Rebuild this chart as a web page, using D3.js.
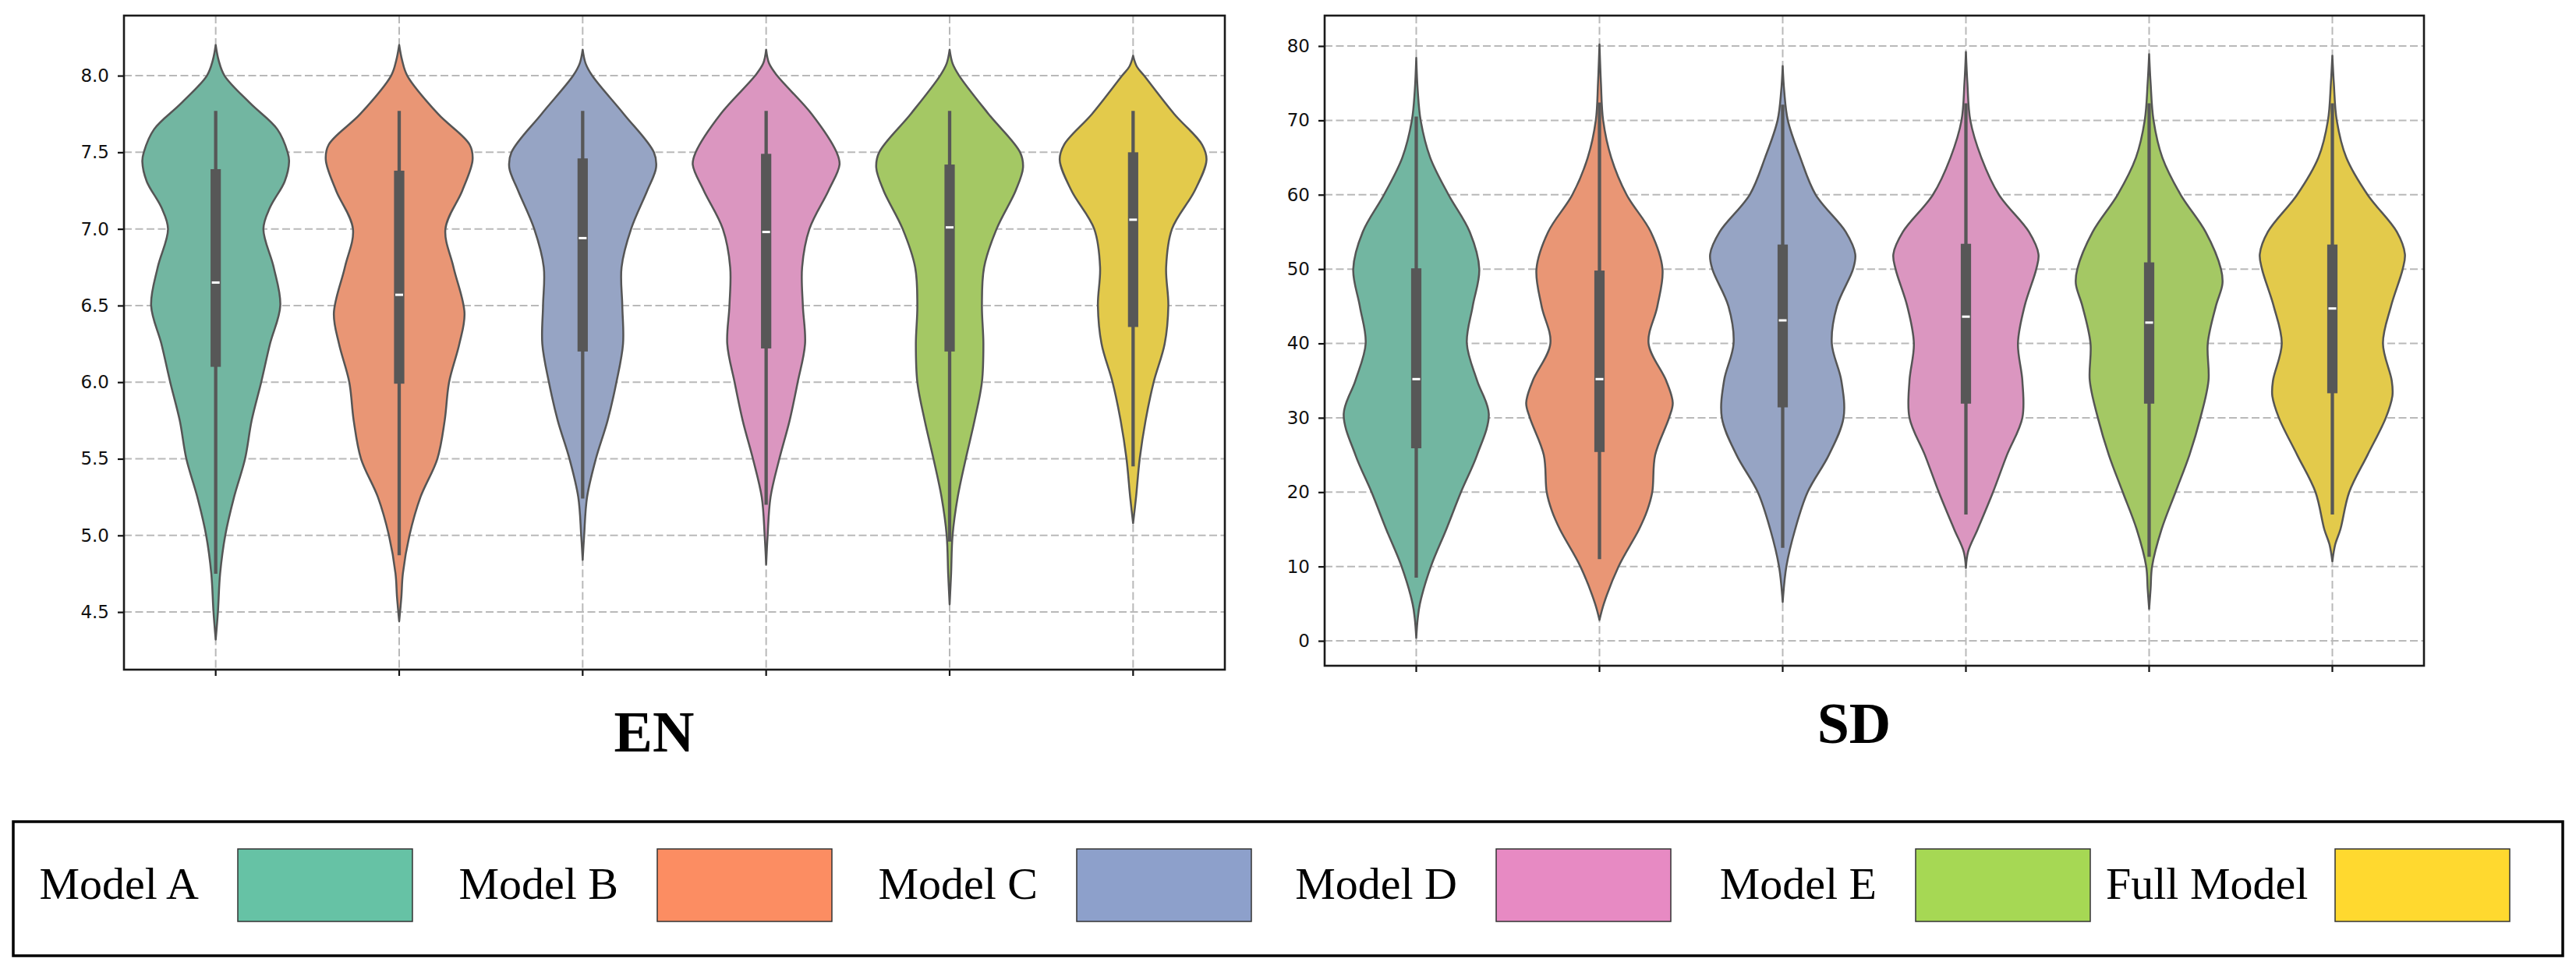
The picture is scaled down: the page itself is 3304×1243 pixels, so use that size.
<!DOCTYPE html>
<html>
<head>
<meta charset="utf-8">
<title>EN / SD violins</title>
<script src="https://cdn.jsdelivr.net/npm/d3@7/dist/d3.min.js"></script>
<style>
body { margin: 0; background: #fff; }
svg { display: block; }
</style>
</head>
<body>
<svg id="chart" width="3304" height="1243"></svg>
<script>
/*global d3*/

var models = ["Model A", "Model B", "Model C", "Model D", "Model E", "Full Model"],
    legendColors = ["#66c2a5", "#fc8d62", "#8da0cb", "#e78ac3", "#a6d854", "#ffd92f"],
    violinColors = ["#72b6a1", "#e99675", "#96a4c4", "#db96c0", "#a4c864", "#e3ca4b"]; //seaborn desaturates the fills

//EN panel
var enTicks = [4.5, 5.0, 5.5, 6.0, 6.5, 7.0, 7.5, 8.0],
    enMedian = [6.65, 6.57, 6.94, 6.98, 7.01, 7.06],
    enQ1 = [6.10, 5.99, 6.20, 6.22, 6.20, 6.36],
    enQ3 = [7.39, 7.38, 7.46, 7.49, 7.42, 7.50],
    enWhiskerLow = [4.75, 4.87, 5.24, 5.20, 4.96, 5.45],
    enWhiskerHigh = [7.77, 7.77, 7.77, 7.77, 7.77, 7.77],
    //[value, relative density]
    enProfiles = [
        [[4.32, 0], [4.5, 0.03], [4.75, 0.06], [5.0, 0.13], [5.25, 0.25], [5.5, 0.40], [5.75, 0.49], [6.0, 0.62], [6.25, 0.74], [6.5, 0.88], [6.75, 0.79], [7.0, 0.65], [7.14, 0.74], [7.31, 0.94], [7.44, 1.0], [7.5, 0.98], [7.65, 0.84], [7.82, 0.47], [8.0, 0.12], [8.1, 0.04], [8.2, 0]],
        [[4.44, 0], [4.6, 0.03], [4.75, 0.05], [5.0, 0.14], [5.25, 0.29], [5.5, 0.52], [5.75, 0.62], [6.0, 0.68], [6.25, 0.82], [6.45, 0.89], [6.75, 0.74], [7.0, 0.63], [7.25, 0.86], [7.45, 1.0], [7.55, 0.96], [7.75, 0.53], [8.0, 0.11], [8.1, 0.04], [8.2, 0]],
        [[4.84, 0], [5.0, 0.02], [5.25, 0.06], [5.5, 0.18], [5.75, 0.34], [6.0, 0.46], [6.25, 0.55], [6.5, 0.54], [6.75, 0.53], [7.0, 0.66], [7.25, 0.88], [7.4, 1.0], [7.5, 0.97], [7.75, 0.56], [8.0, 0.13], [8.08, 0.04], [8.17, 0]],
        [[4.81, 0], [5.0, 0.02], [5.25, 0.06], [5.5, 0.18], [5.75, 0.32], [6.0, 0.43], [6.25, 0.53], [6.5, 0.50], [6.75, 0.49], [7.0, 0.59], [7.25, 0.85], [7.42, 1.0], [7.5, 0.96], [7.75, 0.62], [8.0, 0.15], [8.08, 0.04], [8.17, 0]],
        [[4.55, 0], [4.75, 0.02], [5.0, 0.04], [5.25, 0.11], [5.5, 0.22], [5.75, 0.34], [6.0, 0.44], [6.25, 0.46], [6.5, 0.44], [6.75, 0.47], [7.0, 0.64], [7.25, 0.90], [7.4, 1.0], [7.5, 0.96], [7.75, 0.53], [8.0, 0.13], [8.08, 0.04], [8.17, 0]],
        [[5.08, 0], [5.25, 0.04], [5.5, 0.09], [5.75, 0.17], [6.0, 0.28], [6.25, 0.43], [6.5, 0.48], [6.75, 0.45], [7.0, 0.53], [7.25, 0.84], [7.45, 1.0], [7.55, 0.94], [7.75, 0.56], [8.0, 0.15], [8.06, 0.05], [8.13, 0]]
    ];

//SD panel
var sdTicks = [0, 10, 20, 30, 40, 50, 60, 70, 80],
    sdMedian = [35.2, 35.2, 43.1, 43.6, 42.8, 44.7],
    sdQ1 = [25.9, 25.4, 31.4, 31.9, 31.9, 33.3],
    sdQ3 = [50.1, 49.8, 53.3, 53.4, 50.9, 53.3],
    sdWhiskerLow = [8.5, 11.0, 12.5, 17.0, 11.3, 17.0],
    sdWhiskerHigh = [70.5, 72.4, 72.1, 72.3, 72.3, 72.3],
    sdProfiles = [
        [[0.4, 0], [3, 0.02], [5, 0.05], [10, 0.20], [15, 0.41], [20, 0.61], [25, 0.83], [30.5, 0.99], [35, 0.83], [40, 0.69], [45, 0.77], [50, 0.86], [55, 0.73], [60, 0.44], [65, 0.19], [70, 0.06], [74, 0.02], [78.4, 0]],
        [[2.8, 0], [5, 0.06], [10, 0.26], [15, 0.54], [17.5, 0.65], [20, 0.72], [25, 0.76], [30, 0.95], [32, 1.0], [35, 0.91], [40, 0.67], [45, 0.79], [50, 0.86], [55, 0.70], [60, 0.37], [65, 0.16], [70, 0.05], [75, 0.02], [80.2, 0]],
        [[5.2, 0], [10, 0.05], [15, 0.17], [20, 0.34], [25, 0.63], [30, 0.83], [35, 0.80], [40, 0.67], [45, 0.74], [50, 0.96], [52, 0.99], [55, 0.86], [60, 0.45], [65, 0.24], [70, 0.07], [74, 0.02], [77.3, 0]],
        [[9.8, 0], [12, 0.03], [15, 0.16], [20, 0.37], [25, 0.56], [30, 0.77], [35, 0.77], [40, 0.71], [45, 0.80], [50, 0.96], [52, 0.99], [55, 0.86], [60, 0.45], [65, 0.21], [70, 0.06], [75, 0.02], [79.2, 0]],
        [[4.3, 0], [7, 0.02], [10, 0.04], [15, 0.17], [20, 0.36], [25, 0.55], [30, 0.70], [35, 0.81], [40, 0.80], [45, 0.91], [48, 1.0], [50, 0.98], [55, 0.77], [60, 0.43], [65, 0.18], [70, 0.06], [75, 0.02], [78.9, 0]],
        [[10.7, 0], [13, 0.04], [15, 0.11], [20, 0.23], [25, 0.48], [30, 0.73], [33, 0.82], [35, 0.81], [40, 0.69], [45, 0.80], [50, 0.96], [52, 0.99], [55, 0.88], [60, 0.48], [65, 0.19], [70, 0.06], [75, 0.02], [78.7, 0]]
    ];

var svg = d3.select("#chart");

function drawPanel(p) {
    "use strict";
    var g = svg.append("g"),
        x = d3.scaleBand().domain(models).range([p.left, p.right]).paddingInner(0).paddingOuter(0),
        y = d3.scaleLinear().domain(p.domain).range([p.bottom, p.top]),
        half = d3.scaleLinear().domain([0, 1]).range([0, x.bandwidth() * 0.4]),
        cx = function (m) { return x(m) + x.bandwidth() / 2; };

    //grid, below the violins
    g.append("g").selectAll("line").data(p.ticks).enter().append("line")
        .attr("x1", p.left).attr("x2", p.right)
        .attr("y1", function (d) { return y(d); }).attr("y2", function (d) { return y(d); })
        .attr("stroke", "#b9b9b9").attr("stroke-width", 2).attr("stroke-dasharray", "10,4.5");
    g.append("g").selectAll("line").data(models).enter().append("line")
        .attr("x1", cx).attr("x2", cx)
        .attr("y1", p.top).attr("y2", p.bottom)
        .attr("stroke", "#b9b9b9").attr("stroke-width", 2).attr("stroke-dasharray", "10,4.5");

    //violin bodies
    var area = d3.area()
        .curve(d3.curveCatmullRom.alpha(0.5))
        .y(function (d) { return y(d[0]); });
    g.append("g").selectAll("path").data(models).enter().append("path")
        .attr("d", function (m, i) {
            var c = cx(m);
            return area
                .x0(function (d) { return c - half(d[1]); })
                .x1(function (d) { return c + half(d[1]); })(p.profiles[i]);
        })
        .attr("fill", function (m, i) { return violinColors[i]; })
        .attr("stroke", "#555")
        .attr("stroke-width", 2.5)
        .attr("stroke-linejoin", "round");

    //inner box: whisker, box, median
    var inner = g.append("g").selectAll("g").data(models).enter().append("g");
    inner.append("line")
        .attr("x1", cx).attr("x2", cx)
        .attr("y1", function (m, i) { return y(p.whiskerLow[i]); })
        .attr("y2", function (m, i) { return y(p.whiskerHigh[i]); })
        .attr("stroke", "#575757").attr("stroke-width", 4.3);
    inner.append("rect")
        .attr("x", function (m) { return cx(m) - 6.6; })
        .attr("width", 13.2)
        .attr("y", function (m, i) { return y(p.q3[i]); })
        .attr("height", function (m, i) { return y(p.q1[i]) - y(p.q3[i]); })
        .attr("fill", "#575757");
    inner.append("rect")
        .attr("x", function (m) { return cx(m) - 5; })
        .attr("width", 10)
        .attr("y", function (m, i) { return y(p.median[i]) - 1.5; })
        .attr("height", 3)
        .attr("fill", "#fff");

    //axes
    var yAxis = g.append("g")
        .attr("transform", "translate(" + p.left + ",0)")
        .call(d3.axisLeft(y).tickValues(p.ticks).tickFormat(p.format).tickSize(8).tickPadding(11));
    var xAxis = g.append("g")
        .attr("transform", "translate(0," + p.bottom + ")")
        .call(d3.axisBottom(x).tickFormat("").tickSize(8));
    [yAxis, xAxis].forEach(function (a) {
        a.select(".domain").remove();
        a.selectAll(".tick line").attr("stroke", "#111").attr("stroke-width", 2.2);
        a.selectAll("text").attr("font-family", "DejaVu Sans").attr("font-size", 23).attr("fill", "#111");
    });

    //frame
    g.append("rect")
        .attr("x", p.left).attr("y", p.top)
        .attr("width", p.right - p.left).attr("height", p.bottom - p.top)
        .attr("fill", "none").attr("stroke", "#1a1a1a").attr("stroke-width", 2.6);

    //panel title under the axes
    g.append("text")
        .attr("x", (p.left + p.right) / 2 - 26)
        .attr("y", p.titleY)
        .attr("text-anchor", "middle")
        .attr("font-family", "Liberation Serif, Times New Roman, serif")
        .attr("font-weight", "bold")
        .attr("font-size", 74)
        .text(p.title);
}

drawPanel({
    title: "EN", titleY: 964,
    left: 159, right: 1571, top: 20, bottom: 859,
    domain: [4.124, 8.392], ticks: enTicks, format: d3.format(".1f"),
    profiles: enProfiles, median: enMedian, q1: enQ1, q3: enQ3,
    whiskerLow: enWhiskerLow, whiskerHigh: enWhiskerHigh
});
drawPanel({
    title: "SD", titleY: 953,
    left: 1699, right: 3109, top: 20, bottom: 854,
    domain: [-3.35, 84.09], ticks: sdTicks, format: d3.format("d"),
    profiles: sdProfiles, median: sdMedian, q1: sdQ1, q3: sdQ3,
    whiskerLow: sdWhiskerLow, whiskerHigh: sdWhiskerHigh
});

//legend: label then colour patch, one row
var legend = svg.append("g"),
    swatchWidth = 224,
    swatchX = d3.scalePoint().domain(models).range([305, 2995]);
legend.append("rect")
    .attr("x", 17).attr("y", 1054)
    .attr("width", 3270).attr("height", 172)
    .attr("fill", "#fff").attr("stroke", "#000").attr("stroke-width", 3.5);
var item = legend.selectAll("g.item").data(models).enter().append("g").attr("class", "item");
item.append("rect")
    .attr("x", function (m) { return swatchX(m); })
    .attr("y", 1089)
    .attr("width", swatchWidth).attr("height", 93)
    .attr("fill", function (m, i) { return legendColors[i]; })
    .attr("stroke", "#333").attr("stroke-width", 1.5);
item.append("text")
    .attr("y", 1153)
    .attr("font-family", "Liberation Serif, Times New Roman, serif")
    .attr("font-size", 58)
    .text(function (m) { return m; })
    .attr("x", function (m, i) {
        //sit 50px before the patch, but keep clear of the previous patch
        var w = this.getComputedTextLength(),
            start = swatchX(m) - 50 - w;
        if (i > 0) {
            start = Math.max(start, swatchX(models[i - 1]) + swatchWidth + 20);
        }
        return start;
    });
</script>
</body>
</html>
